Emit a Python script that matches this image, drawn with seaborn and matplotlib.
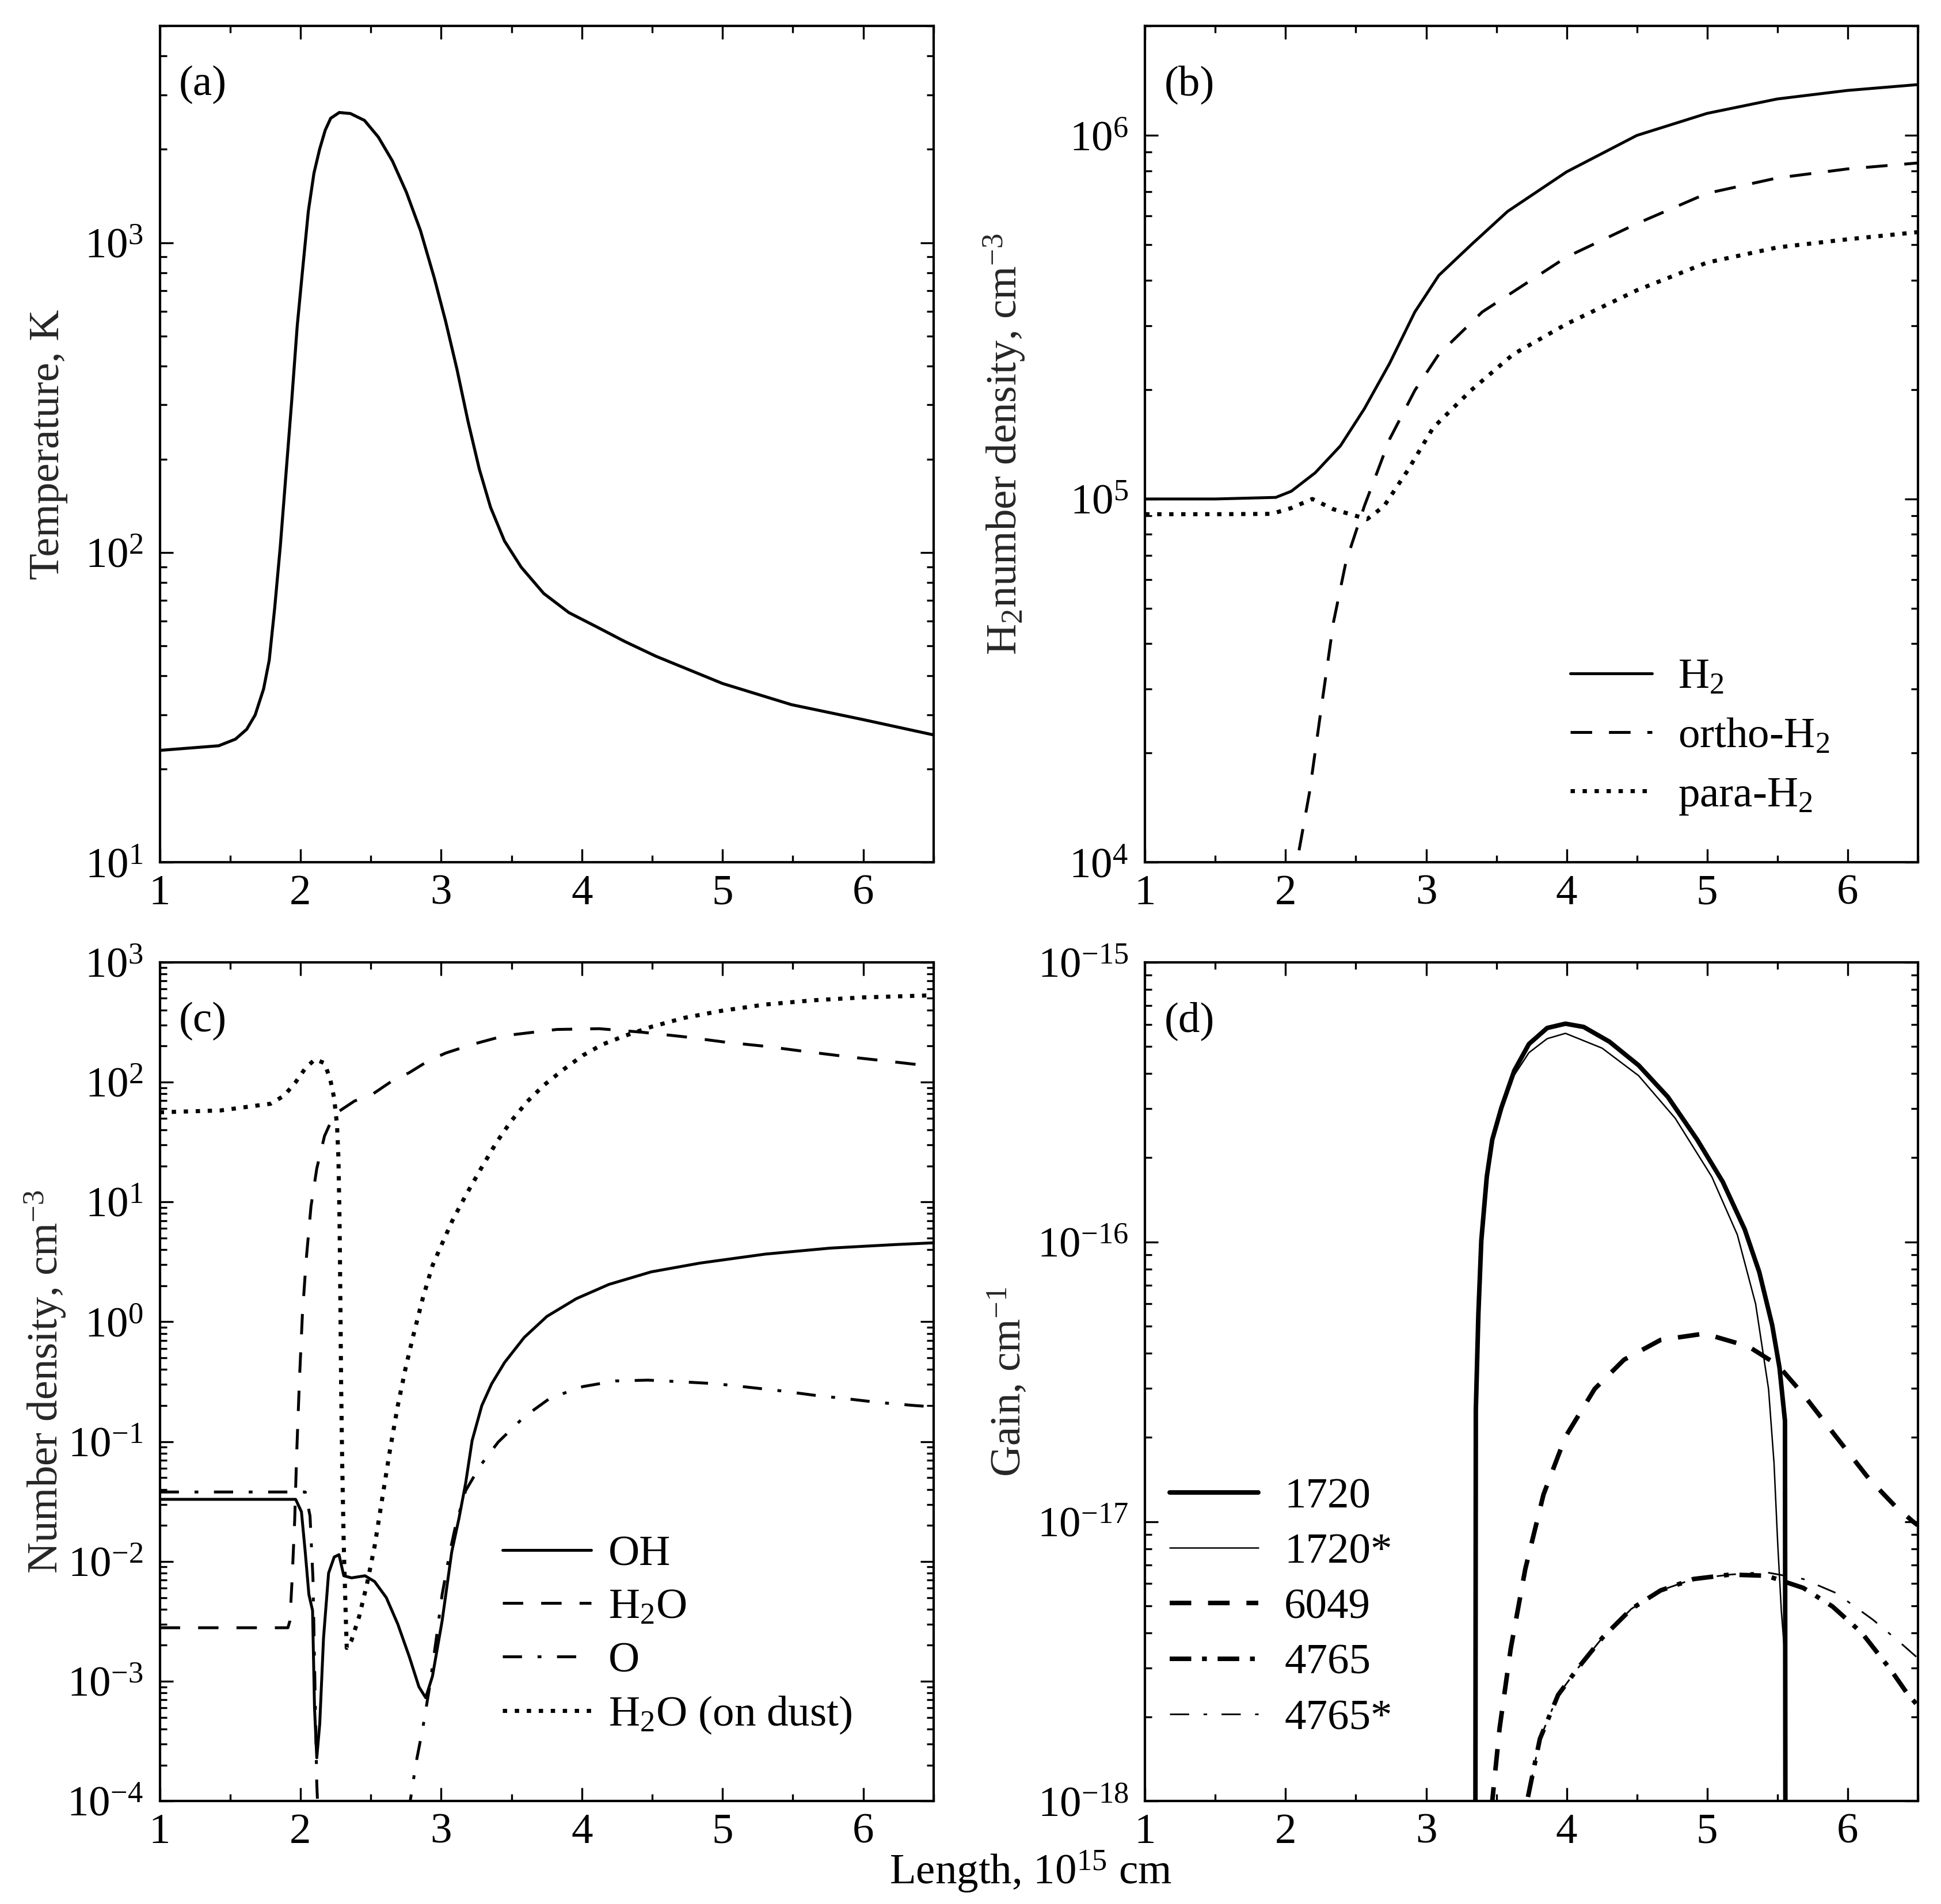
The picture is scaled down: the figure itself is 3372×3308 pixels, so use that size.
import numpy as np
import matplotlib
matplotlib.use("Agg")
import matplotlib.pyplot as plt
import matplotlib.ticker as mticker
import seaborn as sns

# (a) temperature
a_x = [1.0, 1.419, 1.538, 1.618, 1.678, 1.738, 1.778, 1.817, 1.857, 1.897, 1.937, 1.977, 2.016,
       2.056, 2.096, 2.136, 2.176, 2.215, 2.276, 2.355, 2.455, 2.554, 2.654, 2.753, 2.853, 2.952,
       3.032, 3.112, 3.191, 3.271, 3.351, 3.45, 3.569, 3.729, 3.908, 4.108, 4.307, 4.526, 5.0,
       5.49, 6.0, 6.5]
a_temp = [23.0, 23.8, 25.0, 26.9, 29.9, 36.3, 44.9, 66.3, 105, 179, 305, 538, 824,
          1262, 1676, 2000, 2306, 2520, 2630, 2610, 2480, 2190, 1833, 1454, 1094, 767,
          557, 391, 265, 186, 140, 109, 89.7, 73.8, 64, 57.5, 51.6, 46.3, 37.8,
          32.3, 28.9, 25.8]

# (b) H2 densities
b_x_h2 = [1.0, 1.5, 1.93, 2.04, 2.21, 2.39, 2.56, 2.74, 2.92, 3.09, 3.32, 3.58, 4.0, 4.5, 5.0, 5.5, 6.0, 6.5]
b_h2 = [1.0e5, 1.0e5, 1.01e5, 1.05e5, 1.18e5, 1.40e5, 1.77e5, 2.36e5, 3.27e5, 4.12e5, 5.0e5, 6.18e5,
        7.94e5, 1.0e6, 1.15e6, 1.26e6, 1.33e6, 1.38e6]
b_x_ortho = [2.05, 2.08, 2.17, 2.26, 2.34, 2.43, 2.56, 2.74, 2.92, 3.09, 3.4, 4.0, 4.5, 5.0, 5.5, 6.0, 6.5]
b_ortho = [8.5e3, 1.0e4, 1.56e4, 2.77e4, 4.57e4, 6.73e4, 9.55e4, 1.46e5, 1.99e5, 2.5e5, 3.27e5, 4.63e5,
           5.72e5, 6.93e5, 7.64e5, 8.09e5, 8.4e5]
b_x_para = [1.0, 1.5, 1.9, 2.04, 2.19, 2.34, 2.58, 2.7, 2.87, 3.05, 3.32, 3.62, 4.0, 4.5, 5.0, 5.5, 6.0, 6.5]
b_para = [9.08e4, 9.08e4, 9.1e4, 9.44e4, 1.0e5, 9.37e4, 8.8e4, 9.55e4, 1.2e5, 1.57e5, 1.99e5, 2.5e5,
          3.03e5, 3.75e5, 4.47e5, 4.92e5, 5.18e5, 5.42e5]

# (c) number densities
c_x_oh = [1.0, 1.966, 2.007, 2.034, 2.06, 2.086, 2.1, 2.116, 2.137, 2.164, 2.2, 2.24, 2.274, 2.308, 2.363,
          2.459, 2.527, 2.61, 2.692, 2.774, 2.842, 2.89, 2.938, 3.007, 3.075, 3.127, 3.174, 3.22, 3.289,
          3.359, 3.451, 3.59, 3.752, 3.961, 4.192, 4.493, 4.84, 5.303, 5.766, 6.229, 6.5]
c_oh = [0.033, 0.033, 0.026, 0.012, 0.0053, 0.0039, 6e-4, 2.3e-4, 4.4e-4, 0.0023, 0.008, 0.0109, 0.0114,
        0.0076, 0.0073, 0.0076, 0.0068, 0.005, 0.003, 0.0016, 9e-4, 7.3e-4, 0.0011, 0.0032, 0.012, 0.023,
        0.045, 0.102, 0.2, 0.304, 0.458, 0.74, 1.11, 1.56, 2.05, 2.61, 3.09, 3.67, 4.12, 4.41, 4.56]
c_x_h2o = [1.0, 1.911, 1.925, 1.941, 1.959, 1.973, 1.993, 2.014, 2.041, 2.075, 2.116, 2.171, 2.24, 2.384,
           2.514, 2.65, 2.774, 2.911, 3.034, 3.22, 3.451, 3.822, 4.123, 4.424, 4.725, 5.025, 5.303, 5.604,
           5.905, 6.206, 6.5]
c_h2o = [0.0028, 0.0028, 0.0032, 0.0072, 0.022, 0.078, 0.33, 1.16, 3.3, 9.2, 19, 35.5, 53.7, 69.5, 79.5,
         102, 120, 151, 175, 206, 244, 275, 279, 261, 239, 215, 199, 179, 162, 148, 135]
c_x_o = [1.0, 2.034, 2.068, 2.089, 2.116, 2.14, 2.72, 2.78, 2.822, 2.87, 2.918, 2.966, 3.007, 3.062, 3.103,
         3.174, 3.278, 3.405, 3.59, 3.775, 4.007, 4.238, 4.47, 4.725, 4.956, 5.188, 5.419, 5.65, 5.882,
         6.113, 6.368, 6.5]
c_o = [0.038, 0.038, 0.024, 0.0072, 1.4e-4, 3e-5, 3e-5, 1e-4, 2.1e-4, 4.1e-4, 9e-4, 0.0023, 0.0053, 0.012,
       0.020, 0.039, 0.063, 0.099, 0.161, 0.231, 0.288, 0.321, 0.326, 0.315, 0.304, 0.284, 0.265, 0.244,
       0.228, 0.212, 0.2, 0.195]
c_x_dust = [1.0, 1.432, 1.788, 1.884, 1.966, 2.034, 2.103, 2.171, 2.212, 2.24, 2.26, 2.27, 2.278, 2.284,
            2.289, 2.297, 2.308, 2.322, 2.329, 2.363, 2.418, 2.473, 2.527, 2.582, 2.637, 2.692, 2.747,
            2.801, 2.87, 2.938, 3.007, 3.08, 3.174, 3.289, 3.394, 3.498, 3.613, 3.729, 3.868, 4.007,
            4.146, 4.308, 4.493, 4.725, 4.99, 5.303, 5.65, 5.998, 6.4, 6.5]
c_dust = [56, 58, 66, 77, 100, 130, 155, 144, 105, 73, 43.6, 23.4, 6.7, 1.42, 0.3, 0.063, 0.0134, 0.0035,
          0.0019, 0.0022, 0.0035, 0.0065, 0.0134, 0.034, 0.086, 0.2, 0.41, 0.76, 1.58, 2.94, 4.5, 7.0,
          11.3, 19.5, 31.5, 47.4, 69, 94, 127, 167, 206, 244, 289, 343, 393, 444, 482, 509, 526, 530]

# (d) gain
d_x_1720 = [3.349, 3.354, 3.372, 3.393, 3.432, 3.471, 3.536, 3.628, 3.732, 3.862, 3.992, 4.122, 4.305,
            4.513, 4.721, 4.93, 5.112, 5.268, 5.372, 5.464, 5.516, 5.555, 5.56]
d_1720 = [1e-19, 2.5e-17, 5.5e-17, 1.01e-16, 1.71e-16, 2.32e-16, 3.02e-16, 4.1e-16, 5.1e-16, 5.82e-16,
          6.03e-16, 5.87e-16, 5.2e-16, 4.28e-16, 3.3e-16, 2.32e-16, 1.64e-16, 1.11e-16, 7.8e-17, 5.04e-17,
          3.55e-17, 2.29e-17, 1e-19]
d_x_1720s = [3.349, 3.354, 3.372, 3.393, 3.432, 3.471, 3.536, 3.628, 3.732, 3.862, 3.992, 4.253, 4.513,
             4.773, 5.034, 5.216, 5.346, 5.438, 5.477, 5.503, 5.529, 5.55, 5.555]
d_1720s = [1e-19, 2.5e-17, 5.5e-17, 1.01e-16, 1.71e-16, 2.3e-16, 2.95e-16, 3.95e-16, 4.75e-16, 5.33e-16,
           5.57e-16, 4.93e-16, 3.93e-16, 2.77e-16, 1.71e-16, 1.06e-16, 6.0e-17, 2.98e-17, 1.62e-17, 8.4e-18,
           4.8e-18, 3.5e-18, 1e-19]
d_x_6049 = [3.44, 3.471, 3.523, 3.602, 3.706, 3.836, 3.992, 4.2, 4.409, 4.669, 4.982, 5.294, 5.503, 5.685,
            5.919, 6.154, 6.336, 6.466, 6.5]
d_6049 = [5e-19, 1e-18, 1.82e-18, 3.5e-18, 6.76e-18, 1.25e-17, 2.01e-17, 2.98e-17, 3.79e-17, 4.46e-17,
          4.7e-17, 4.23e-17, 3.63e-17, 2.85e-17, 2.01e-17, 1.42e-17, 1.14e-17, 1.0e-17, 9.7e-18]
d_x_4765 = [3.68, 3.719, 3.81, 3.94, 4.083, 4.253, 4.461, 4.669, 4.904, 5.164, 5.424, 5.516, 5.685, 5.893,
            6.102, 6.31, 6.427, 6.5]
d_4765 = [7e-19, 1e-18, 1.67e-18, 2.4e-18, 3.0e-18, 3.83e-18, 4.87e-18, 5.67e-18, 6.23e-18, 6.46e-18,
          6.4e-18, 6.18e-18, 5.79e-18, 4.97e-18, 4.0e-18, 2.94e-18, 2.42e-18, 2.2e-18]
d_x_4765s = [3.68, 3.719, 3.81, 3.94, 4.083, 4.253, 4.461, 4.669, 4.904, 5.164, 5.41, 5.685, 5.919, 6.18,
             6.362, 6.479, 6.5]
d_4765s = [7e-19, 1e-18, 1.67e-18, 2.4e-18, 3.0e-18, 3.83e-18, 4.87e-18, 5.67e-18, 6.23e-18, 6.46e-18,
           6.6e-18, 6.23e-18, 5.55e-18, 4.46e-18, 3.74e-18, 3.32e-18, 3.25e-18]

FS = 18

sns.set_theme(style="ticks")
plt.rcParams["font.family"] = ["Liberation Serif", "DejaVu Serif"]
plt.rcParams.update({
    "font.size": FS,
    "mathtext.fontset": "custom",
    "mathtext.rm": "Liberation Serif",
    "mathtext.it": "Liberation Serif:italic",
    "mathtext.bf": "Liberation Serif:bold",
    "lines.scale_dashes": False,
    "axes.linewidth": 1.0,
    "axes.edgecolor": "black",
    "text.color": "black",
    "xtick.color": "black",
    "ytick.color": "black",
})

fig = plt.figure(figsize=(11.24, 11.027), dpi=300)
ax_a = fig.add_axes([0.0823, 0.547, 0.3987, 0.4393])
ax_b = fig.add_axes([0.590, 0.547, 0.398, 0.4393])
ax_c = fig.add_axes([0.0823, 0.054, 0.3987, 0.4406])
ax_d = fig.add_axes([0.590, 0.054, 0.398, 0.4406])

solid = "-"
dash = (0, (8.5, 7.5))
dot = (0, (1.8, 3.2))
dashdot = (0, (8, 6.5, 1.6, 6.5))


def setup(ax, ylim, letter, ylabel, lab_x):
    ax.set_yscale("log")
    ax.set_xlim(1, 6.5)
    ax.set_ylim(*ylim)
    ax.xaxis.set_major_locator(mticker.MultipleLocator(1))
    ax.xaxis.set_minor_locator(mticker.MultipleLocator(0.5))
    ax.yaxis.set_major_locator(mticker.LogLocator(base=10, numticks=30))
    ax.yaxis.set_minor_locator(mticker.LogLocator(base=10, subs=np.arange(2, 10), numticks=30))
    ax.yaxis.set_minor_formatter(mticker.NullFormatter())
    ax.tick_params(which="both", direction="in", top=True, right=True, width=0.8, labelsize=FS)
    ax.tick_params(which="major", length=5.5)
    ax.tick_params(which="minor", length=2.9)
    ax.tick_params(axis="y", pad=7)
    ax.tick_params(axis="x", pad=5)
    for s in ax.spines.values():
        s.set_linewidth(1.0)
        s.set_visible(True)
    ax.text(0.025, 0.93, letter, transform=ax.transAxes, fontsize=FS, va="center", ha="left")
    ax.set_ylabel(ylabel, fontsize=FS)
    ax.yaxis.set_label_coords(lab_x, 0.5)


def line(ax, x, y, ls, lw, label=None):
    sns.lineplot(x=x, y=y, ax=ax, color="black", linestyle=ls, linewidth=lw,
                 errorbar=None, label=label, legend=False)


# (a)
setup(ax_a, (10, 5000), "(a)", "Temperature, K", -0.119)
line(ax_a, a_x, a_temp, solid, 1.25)

# (b)
setup(ax_b, (1e4, 2e6), "(b)", r"H$_2$number density, cm$^{-3}$", -0.153)
line(ax_b, b_x_h2, b_h2, solid, 1.2, r"H$_2$")
line(ax_b, b_x_ortho, b_ortho, (0, (9, 7)), 1.2, r"ortho-H$_2$")
line(ax_b, b_x_para, b_para, dot, 1.7, r"para-H$_2$")
ax_b.legend(loc="lower left", bbox_to_anchor=(0.55, 0.055), frameon=False, borderpad=0,
            borderaxespad=0, handlelength=1.9, handletextpad=0.6, labelspacing=0.45, fontsize=FS)

# (c)
setup(ax_c, (1e-4, 1e3), "(c)", r"Number density, cm$^{-3}$", -0.119)
line(ax_c, c_x_oh, c_oh, solid, 1.2, "OH")
line(ax_c, c_x_h2o, c_h2o, dash, 1.2, r"H$_2$O")
line(ax_c, c_x_o, c_o, dashdot, 1.2, "O")
line(ax_c, c_x_dust, c_dust, dot, 1.7, r"H$_2$O (on dust)")
ax_c.legend(loc="lower left", bbox_to_anchor=(0.443, 0.078), frameon=False, borderpad=0,
            borderaxespad=0, handlelength=2.05, handletextpad=0.4, labelspacing=0.32, fontsize=FS)

# (d)
setup(ax_d, (1e-18, 1e-15), "(d)", r"Gain, cm$^{-1}$", -0.15)
line(ax_d, d_x_1720, d_1720, solid, 1.9, "1720")
line(ax_d, d_x_1720s, d_1720s, solid, 0.6, "1720*")
line(ax_d, d_x_6049, d_6049, (0, (9, 7)), 1.9, "6049")
line(ax_d, d_x_4765, d_4765, (0, (9, 4.5, 2, 4.5)), 1.9, "4765")
line(ax_d, d_x_4765s, d_4765s, (0, (8, 6, 1.5, 6)), 0.7, "4765*")
ax_d.legend(loc="lower left", bbox_to_anchor=(0.032, 0.075), frameon=False, borderpad=0,
            borderaxespad=0, handlelength=2.05, handletextpad=0.6, labelspacing=0.37, fontsize=FS)

fig.text(0.531, 0.0106, r"Length, 10$^{15}$ cm", ha="center", va="baseline", fontsize=FS)

fig.savefig("out.png", dpi=300)
